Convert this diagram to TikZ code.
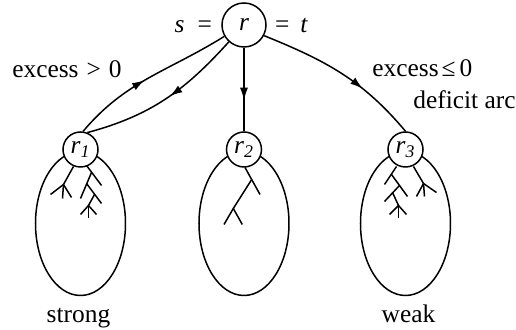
\documentclass[tikz,border=0pt]{standalone}
\usepackage{fontspec}
\setmainfont{Liberation Serif}
\usetikzlibrary{arrows.meta, positioning, shapes.geometric, calc, decorations.markings, backgrounds}

\begin{document}
\begin{tikzpicture}[
        x=0.5pt, y=0.5pt,
        font=\fontsize{12.7}{15}\selectfont,
        root/.style={circle, draw, fill=white, line width=0.75pt, minimum size=22pt, inner sep=0pt},
        sub/.style={circle, draw, fill=white, line width=0.75pt, minimum size=17.5pt, inner sep=0pt},
        blob/.style={ellipse, draw, line width=0.75pt, minimum width=45pt, minimum height=72pt, inner sep=0pt},
        lbl/.style={inner sep=0pt},
        branch/.style={line width=0.75pt},
        arc/.style={line width=0.75pt},
        midarrow/.style={arc, postaction={decorate}, decoration={markings, mark=at position #1 with {\arrow{Latex[length=6.3pt,width=4pt]}}}},
    ]
    \useasboundingbox (0,0) rectangle (516,-330);

    % Roots
    \node[root] (r) at (244,-25) {\textit{r}};
    \node[sub, below=41.75pt of r] (r2) {\textit{r}\textsubscript{\textit{2}}};
    \node[sub, left=63.5pt of r2] (r1) {\textit{r}\textsubscript{\textit{1}}};
    \node[sub, right=62.5pt of r2] (r3) {\textit{r}\textsubscript{\textit{3}}};

    \node[lbl, anchor=base east] (s) at ($(r.west)+(-9,-8)$) {\textit{s}\hspace{6.5pt}=};
    \node[lbl, anchor=base west] (t) at ($(r.east)+(8,-8)$) {=\hspace{5.5pt}\textit{t}};

    % Subtrees
    \begin{scope}[on background layer]
        \node[blob] (e1) at ($(r1)+(0,-74)$) {};
        \node[blob] (e2) at ($(r2)+(0,-74)$) {};
        \node[blob] (e3) at ($(r3)+(0,-74)$) {};

        \begin{scope}[shift={(r1)}, branch]
            \draw (-7,-17) -- (-17,-35);
            \draw (-17,-35) -- (-30,-45);
            \draw (-17,-35) -- (-18,-49);
            \draw (-17,-35) -- (-9,-48);
            \draw (6,-16) -- (21,-36);
            \draw (11,-23) -- (0,-49);
            \draw (6,-34) -- (21,-54);
            \draw (14,-45) -- (8,-56);
            \foreach \dx/\dy in {0/65, 8/69, 16/65}
                \draw (8,-56) -- (\dx,-\dy);
        \end{scope}

        \begin{scope}[shift={(r2)}, branch]
            \draw (1,-18) -- (16,-45);
            \draw (7.7,-30) -- (-10.7,-59);
            \draw (-10.7,-59) -- (-20,-75);
            \draw (-10.7,-59) -- (-1.7,-75);
        \end{scope}

        \begin{scope}[shift={(r3)}, branch]
            \draw (-9,-17) -- (-21,-35);
            \draw (-14,-25) -- (2,-47);
            \draw (-6,-36) -- (-21,-52);
            \draw (-13,-43) -- (-7,-56);
            \foreach \dx/\dy in {-16/65, -7/69, 1/65}
                \draw (-7,-56) -- (\dx,-\dy);
            \draw (8,-17) -- (18,-34);
            \foreach \dx/\dy in {11/47, 19/47, 31/43}
                \draw (18,-34) -- (\dx,-\dy);
        \end{scope}
    \end{scope}

    % Arcs
    \draw[midarrow=0.47] (r1.82) to[out=50, in=212] (r.210);
    \draw[midarrow=0.47] (r.228) to[out=228, in=15] (r1.68);
    \draw[midarrow=0.63] (r) -- (r2);
    \draw[midarrow=0.65] (r.-28) to[out=-22, in=130] (r3.north);

    % Labels
    \node[lbl, anchor=base east] (exc1) at (122,-77.5) {excess\kern4pt>\kern4pt0};
    \node[lbl, anchor=base west] (exc2) at (372,-77) {excess\kern1.5pt≤\kern2pt0};
    \node[lbl, anchor=base west] (deficit) at (413,-108.3) {deficit arc};
    \node[lbl, below=13pt of e1, anchor=base, xshift=-1pt] (strong) {strong};
    \node[lbl, below=13pt of e3, anchor=base, xshift=1.5pt] (weak) {weak};
\end{tikzpicture}
\end{document}
